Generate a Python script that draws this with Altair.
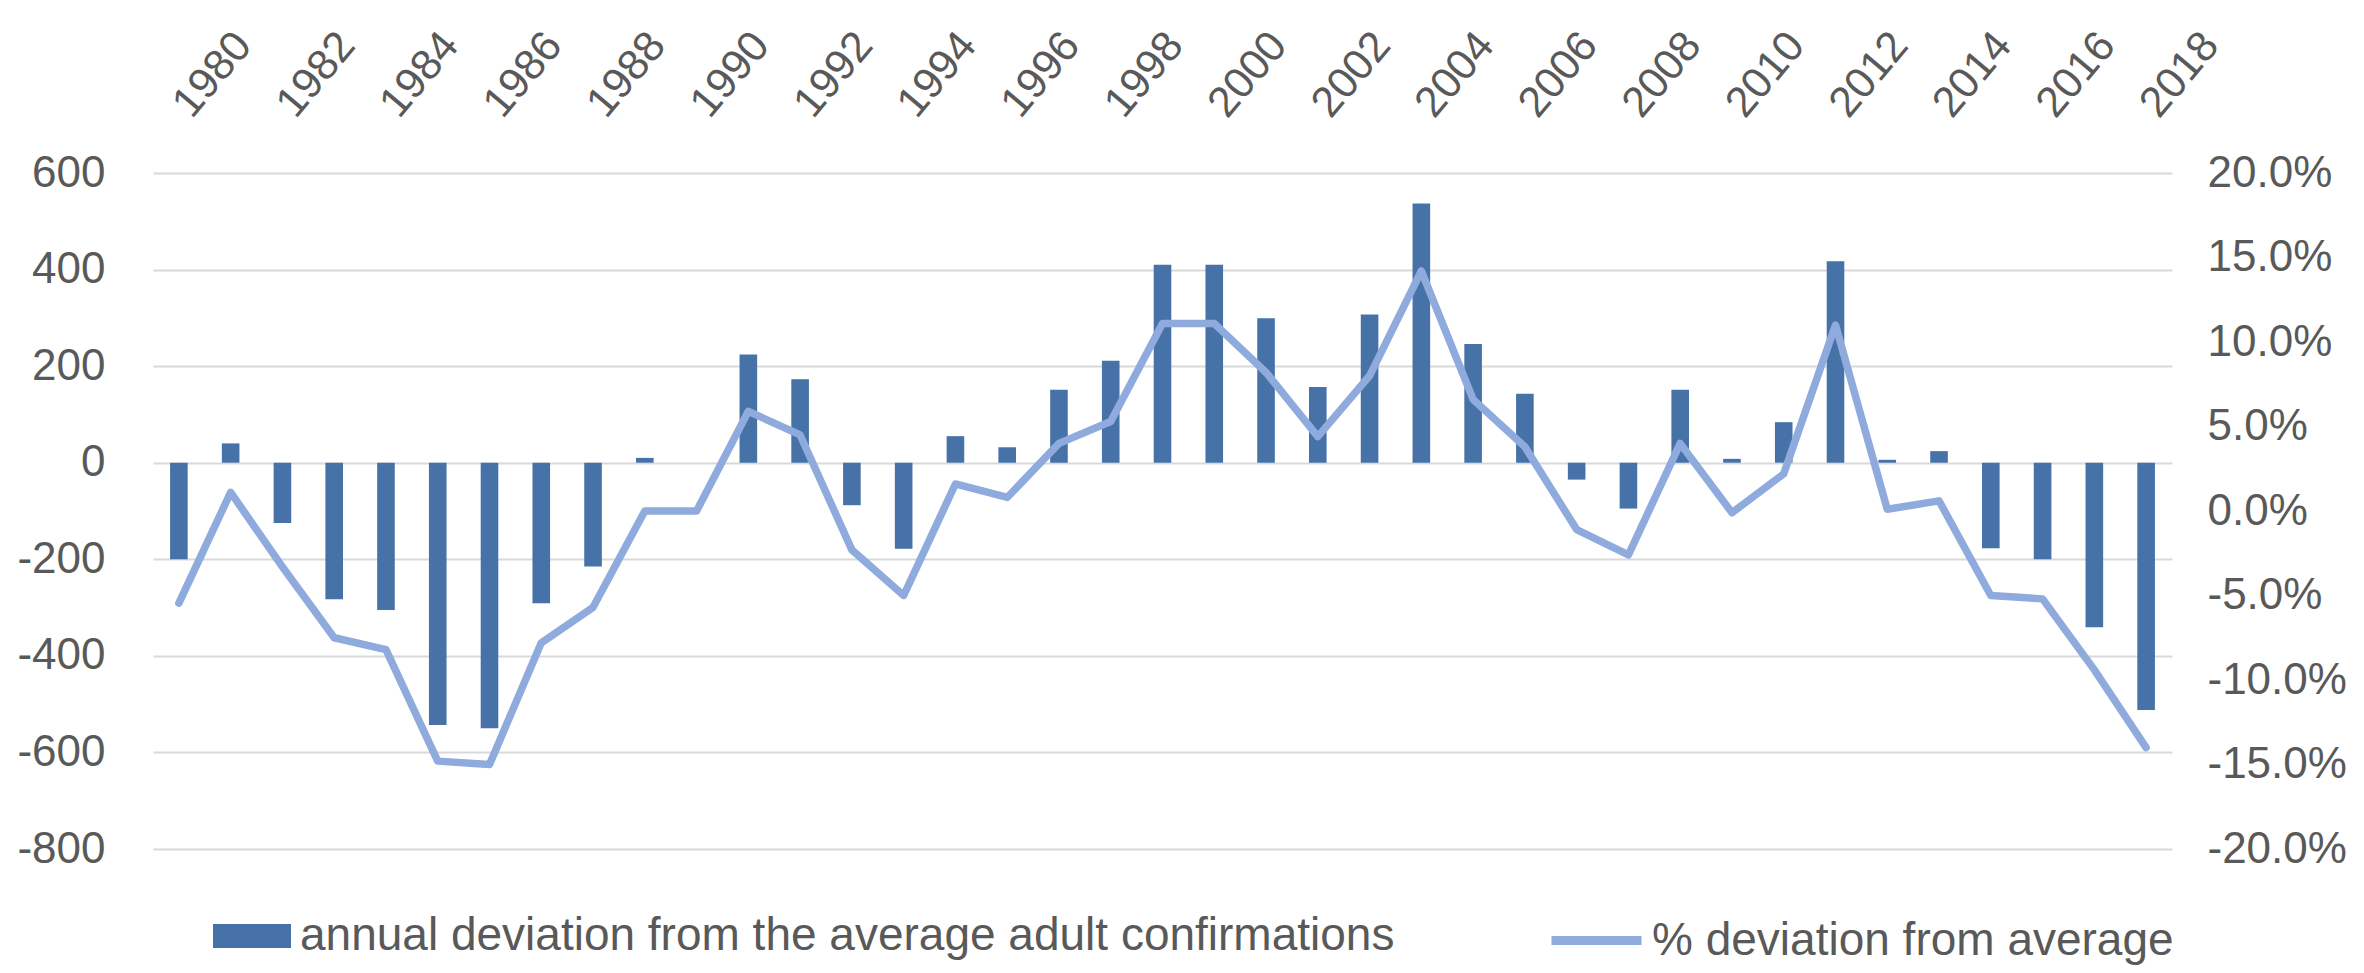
import altair as alt
import pandas as pd

years = list(range(1980, 2019))
annual_dev = [-200, 40, -125, -283, -305, -543, -550, -291, -215, 10, 0, 224, 173, -88, -178,
              55, 32, 151, 211, 410, 410, 299, 157, 307, 537, 246, 143, -35, -95, 151, 8, 84,
              417, 6, 24, -177, -200, -341, -512]
pct_dev = [-5.45, 1.1, -3.3, -7.5, -8.2, -14.8, -15.0, -7.8, -5.7, 0.0, 0.0, 5.9, 4.5, -2.3, -5.0,
           1.6, 0.8, 4.0, 5.3, 11.1, 11.1, 8.2, 4.4, 8.0, 14.2, 6.6, 3.8, -1.1, -2.6, 4.0, -0.1, 2.2,
           11.0, 0.1, 0.6, -5.0, -5.2, -9.4, -14.0]
year_labels = list(range(1980, 2019, 2))
left_ticks = [-800, -600, -400, -200, 0, 200, 400, 600]
right_ticks = [-20, -15, -10, -5, 0, 5, 10, 15, 20]

bar_name = "annual deviation from the average adult confirmations"
line_name = "% deviation from average"

df = pd.DataFrame({"year": years, "dev": annual_dev, "pct": pct_dev})

FONT = "Liberation Sans"
TXT = "#595959"

x_enc = alt.X(
    "year:O",
    scale=alt.Scale(paddingInner=0.66, paddingOuter=0.33),
    axis=alt.Axis(
        orient="top", values=year_labels, labelAngle=-50, labelFontSize=43,
        labelColor=TXT, labelPadding=62, labelOffset=3, domain=False, ticks=False,
        grid=False, title=None, labelOverlap=False, labelBound=False, labelFlush=False,
    ),
)

bars = alt.Chart(df).transform_calculate(series=f"'{bar_name}'").mark_bar(opacity=1).encode(
    x=x_enc,
    y=alt.Y(
        "dev:Q",
        scale=alt.Scale(domain=[-800, 600], nice=False, zero=False),
        axis=alt.Axis(
            values=left_ticks, grid=True, gridColor="#D9D9D9", gridWidth=2, domain=False,
            ticks=False, labelPadding=48, labelFontSize=44, labelColor=TXT, title=None,
            labelExpr="replace(format(datum.value, 'd'), '\u2212', '-')",
        ),
    ),
    color=alt.Color(
        "series:N",
        scale=alt.Scale(domain=[bar_name], range=["#4672A8"]),
        legend=alt.Legend(
            orient="none", legendX=60, legendY=724, title=None, padding=0,
            symbolType="M-1,-0.3077H1V0.3077H-1Z", symbolSize=6084, symbolStrokeWidth=0,
            symbolOpacity=1, labelFontSize=46, labelColor=TXT, labelOffset=9, labelLimit=0,
        ),
    ),
)

line = alt.Chart(df).transform_calculate(series2=f"'{line_name}'").mark_line(
    strokeWidth=7.5, strokeJoin="round", strokeCap="round"
).encode(
    x=x_enc,
    y=alt.Y(
        "pct:Q",
        scale=alt.Scale(domain=[-20, 20], nice=False, zero=False),
        axis=alt.Axis(
            orient="right", values=right_ticks, grid=False, domain=False, ticks=False,
            labelPadding=35, labelFontSize=44, labelColor=TXT, title=None,
            labelExpr="replace(format(datum.value, '.1f'), '\u2212', '-') + '%'",
        ),
    ),
    stroke=alt.Stroke(
        "series2:N",
        scale=alt.Scale(domain=[line_name], range=["#8FAADC"]),
        legend=alt.Legend(
            orient="none", legendX=1394, legendY=718, title=None, padding=0,
            symbolType="stroke", symbolSize=8100, symbolStrokeWidth=9,
            labelFontSize=46, labelColor=TXT, labelOffset=6, labelLimit=0,
        ),
    ),
)

chart = alt.layer(bars, line).resolve_scale(y="independent").properties(
    width=2019,
    height=676,
    padding={"left": 145, "top": 165, "right": 184, "bottom": 116},
    autosize=alt.AutoSizeParams(type="none"),
    background="white",
).configure(font=FONT, view=alt.ViewConfig(stroke=None))

chart.save("out.html", embed_options={"renderer": "svg", "actions": False})
